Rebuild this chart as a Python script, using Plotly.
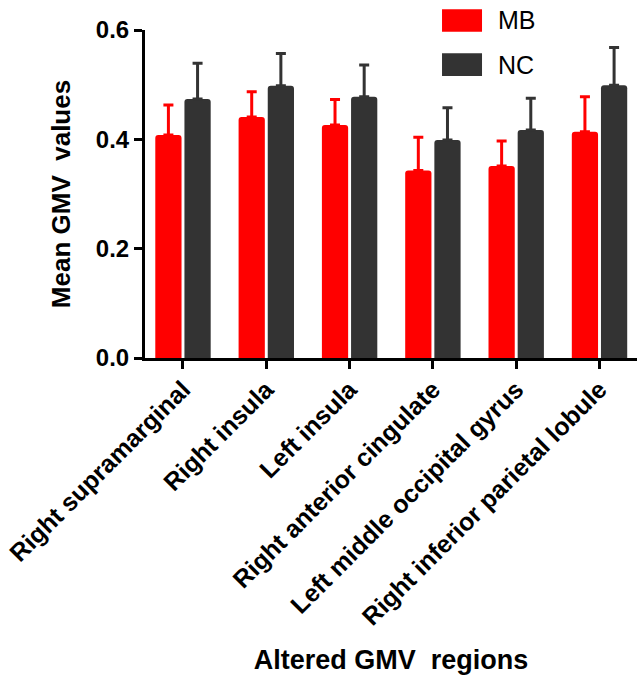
import plotly.graph_objects as go

regions = ["Right supramarginal", "Right insula", "Left insula",
           "Right anterior cingulate", "Left middle occipital gyrus",
           "Right inferior parietal lobule"]
mb_mean = [0.408, 0.441, 0.426, 0.343, 0.351, 0.414]
mb_err = [0.055, 0.046, 0.047, 0.061, 0.046, 0.064]
nc_mean = [0.474, 0.498, 0.478, 0.399, 0.417, 0.499]
nc_err = [0.065, 0.059, 0.058, 0.059, 0.058, 0.069]
y_ticks = [0.0, 0.2, 0.4, 0.6]
y_ticklabels = ["0.0", "0.2", "0.4", "0.6"]

RED = "#FF0000"
DARK = "#333333"
FONT = "Liberation Sans, Arial, sans-serif"

fig = go.Figure()
fig.add_trace(go.Bar(
    x=list(range(len(regions))), y=mb_mean, name="MB", marker_color=RED,
    marker_line_width=0,
    error_y=dict(type="data", array=mb_err, arrayminus=[0] * len(mb_err),
                 symmetric=False, color=RED, thickness=3, width=5),
))
fig.add_trace(go.Bar(
    x=list(range(len(regions))), y=nc_mean, name="NC", marker_color=DARK,
    marker_line_width=0,
    error_y=dict(type="data", array=nc_err, arrayminus=[0] * len(nc_err),
                 symmetric=False, color=DARK, thickness=3, width=5),
))

fig.update_layout(
    width=637, height=675,
    margin=dict(l=145, r=0, t=30, b=317, autoexpand=False),
    paper_bgcolor="white", plot_bgcolor="white",
    barmode="group", bargap=0.3, bargroupgap=0.1,
    barcornerradius=3,
    showlegend=False,
    font=dict(family=FONT, color="black"),
)

fig.update_xaxes(
    range=[-0.456, 5.45],
    tickmode="array", tickvals=list(range(len(regions))), ticktext=regions,
    tickangle=-45,
    tickfont=dict(size=25, family=FONT, weight="bold"),
    ticklabelstandoff=-4,
    ticks="outside", ticklen=8, tickwidth=3, tickcolor="black",
    showline=True, linewidth=3, linecolor="black",
    showgrid=False, zeroline=False,
    title=dict(text="Altered GMV \u00a0regions",
               font=dict(size=27, family=FONT, weight="bold"),
               standoff=32),
    automargin=False,
)
fig.update_yaxes(
    range=[0, 0.6],
    tickmode="array", tickvals=y_ticks, ticktext=y_ticklabels,
    tickfont=dict(size=24, family=FONT, weight="bold"),
    ticks="outside", ticklen=8, tickwidth=3, tickcolor="black",
    showline=True, linewidth=3, linecolor="black",
    showgrid=False, zeroline=False,
    title=dict(text="Mean GMV \u00a0values",
               font=dict(size=26, family=FONT, weight="bold"),
               standoff=18),
    automargin=False,
)

# Legend drawn as large swatches with labels (like the reference)
legend_items = [("MB", RED, 1.063, 0.995), ("NC", DARK, 0.929, 0.860)]
for name, color, y1, y0 in legend_items:
    fig.add_shape(type="rect", xref="paper", yref="paper",
                  x0=0.6037, x1=0.685, y0=y0, y1=y1,
                  fillcolor=color, line_width=0, layer="above")
    fig.add_annotation(xref="paper", yref="paper", x=0.714, y=(y0 + y1) / 2,
                       text=name, showarrow=False, xanchor="left",
                       yanchor="middle",
                       font=dict(size=25, family=FONT, color="black"))

fig.write_html("out.html")
